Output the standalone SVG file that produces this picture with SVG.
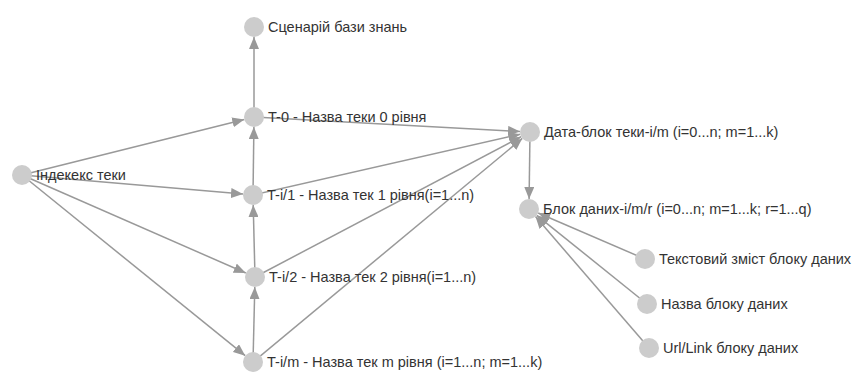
<svg xmlns="http://www.w3.org/2000/svg" width="853" height="372" viewBox="0 0 853 372">
<style>
.e{stroke:#999;stroke-width:1.5;fill:none;marker-end:url(#a)}
.n{fill:#ccc}
.t{font-family:"Liberation Sans",Arial,sans-serif;font-size:14.5px;fill:#333}
</style>
<defs>
<marker id="a" markerUnits="userSpaceOnUse" markerWidth="12" markerHeight="10" refX="12" refY="5" orient="auto" viewBox="0 0 12 10">
<path d="M0,0 L12,5 L0,10 z" fill="#999"/>
</marker>
</defs>
<rect width="853" height="372" fill="#fff"/>
<g id="edges">
<line class="e" x1="254" y1="117" x2="254" y2="37"/>
<line class="e" x1="22" y1="175" x2="244.3" y2="119.4"/>
<line class="e" x1="22" y1="175" x2="243" y2="194.1"/>
<line class="e" x1="22" y1="175" x2="245.8" y2="273"/>
<line class="e" x1="22" y1="175" x2="245.2" y2="355.7"/>
<line class="e" x1="253" y1="195" x2="253.9" y2="127"/>
<line class="e" x1="255" y1="277" x2="253.2" y2="205"/>
<line class="e" x1="253" y1="362" x2="254.8" y2="287"/>
<line class="e" x1="254" y1="117" x2="520" y2="131.5"/>
<line class="e" x1="253" y1="195" x2="520.3" y2="134.2"/>
<line class="e" x1="255" y1="277" x2="521.2" y2="136.7"/>
<line class="e" x1="253" y1="362" x2="522.3" y2="138.4"/>
<line class="e" x1="530" y1="132" x2="529.1" y2="199"/>
<line class="e" x1="645" y1="259" x2="538.2" y2="213"/>
<line class="e" x1="647" y1="304" x2="536.8" y2="215.3"/>
<line class="e" x1="649" y1="348" x2="535.5" y2="216.6"/>
</g>
<g id="n1"><circle class="n" cx="254" cy="27" r="10"/><text class="t" x="268" y="32">Сценарій бази знань</text></g>
<g id="n2"><circle class="n" cx="254" cy="117" r="10"/><text class="t" x="268" y="122">T-0 - Назва теки 0 рівня</text></g>
<g id="n3"><circle class="n" cx="22" cy="175" r="10"/><text class="t" x="36" y="180">Індекекс теки</text></g>
<g id="n4"><circle class="n" cx="253" cy="195" r="10"/><text class="t" x="267" y="200">T-i/1 - Назва тек 1 рівня(i=1...n)</text></g>
<g id="n5"><circle class="n" cx="255" cy="277" r="10"/><text class="t" x="269" y="282">T-i/2 - Назва тек 2 рівня(i=1...n)</text></g>
<g id="n6"><circle class="n" cx="253" cy="362" r="10"/><text class="t" x="267" y="367">T-i/m - Назва тек m рівня (i=1...n; m=1...k)</text></g>
<g id="n7"><circle class="n" cx="530" cy="132" r="10"/><text class="t" x="544" y="137">Дата-блок теки-i/m (i=0...n; m=1...k)</text></g>
<g id="n8"><circle class="n" cx="529" cy="209" r="10"/><text class="t" x="543" y="214">Блок даних-i/m/r (i=0...n; m=1...k; r=1...q)</text></g>
<g id="n9"><circle class="n" cx="645" cy="259" r="10"/><text class="t" x="659" y="264">Текстовий зміст блоку даних</text></g>
<g id="n10"><circle class="n" cx="647" cy="304" r="10"/><text class="t" x="661" y="309">Назва блоку даних</text></g>
<g id="n11"><circle class="n" cx="649" cy="348" r="10"/><text class="t" x="663" y="353">Url/Link блоку даних</text></g>
</svg>
